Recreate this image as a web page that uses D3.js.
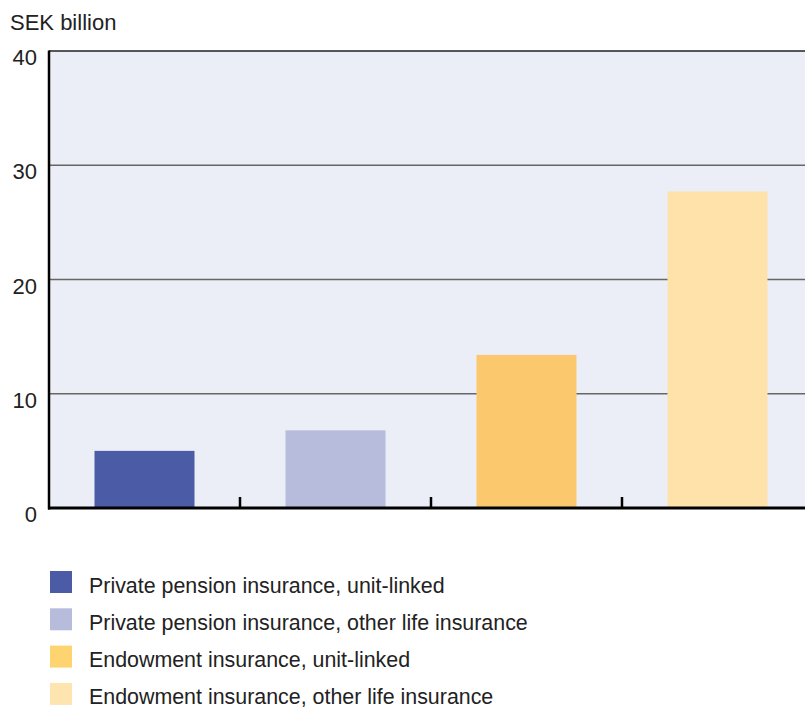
<!DOCTYPE html>
<html>
<head>
<meta charset="utf-8">
<script src="https://cdn.jsdelivr.net/npm/d3@7"></script>
<style>
  html, body { margin: 0; padding: 0; background: #fff; }
  svg { display: block; }
  text { font-family: "Liberation Sans", Arial, sans-serif; fill: #222; }
</style>
</head>
<body>
<svg id="chart" width="805" height="707"></svg>
<script>
// Categories, values (SEK billion) and colours
const categories = [
  "Private pension insurance, unit-linked",
  "Private pension insurance, other life insurance",
  "Endowment insurance, unit-linked",
  "Endowment insurance, other life insurance"
];
const values = [5.0, 6.8, 13.4, 27.7];
const barColors = ["#4b5ba6", "#b8bcdc", "#fcc86e", "#fee2aa"];
const legendColors = ["#4b5ba6", "#b8bcdc", "#fdd470", "#fee5b0"];
const yTicks = [0, 10, 20, 30, 40];
const unitLabel = "SEK billion";

(function draw() {
  const svg = d3.select("#chart");
  const W = 805;
  const plotLeft = 49, plotTop = 51, plotBottom = 508, plotRight = 813;

  const x = d3.scaleBand().domain(categories).range([plotLeft, plotRight]).paddingInner(0).paddingOuter(0);
  const y = d3.scaleLinear().domain([0, 40]).range([plotBottom, plotTop]);
  const barW = x.bandwidth() * 100 / 191;

  // plot background
  svg.append("rect")
    .attr("x", plotLeft).attr("y", plotTop)
    .attr("width", W - plotLeft).attr("height", plotBottom - plotTop)
    .attr("fill", "#ebeef6");

  // horizontal gridlines
  svg.append("g").selectAll("line")
    .data(yTicks.filter(d => d > 0))
    .join("line")
    .attr("x1", plotLeft).attr("x2", W)
    .attr("y1", d => y(d)).attr("y2", d => y(d))
    .attr("stroke", d => d === 40 ? "#222" : "#666")
    .attr("stroke-width", 1.5);

  // bars
  svg.append("g").selectAll("rect")
    .data(values)
    .join("rect")
    .attr("x", (d, i) => x(categories[i]) + (x.bandwidth() - barW) / 2)
    .attr("width", barW)
    .attr("y", d => y(d))
    .attr("height", d => y(0) - y(d))
    .attr("fill", (d, i) => barColors[i]);

  // y axis labels, set just below their gridlines
  const yAxis = d3.axisLeft(y).tickValues(yTicks).tickSize(0).tickPadding(12);
  const gy = svg.append("g").attr("transform", `translate(${plotLeft},0)`).call(yAxis);
  gy.select(".domain").remove();
  gy.selectAll("text")
    .attr("x", -12)
    .attr("y", 13.5)
    .attr("dy", null)
    .style("font-size", "22px")
    .style("font-family", "'Liberation Sans', Arial, sans-serif")
    .attr("fill", "#222");

  // left axis line
  svg.append("line")
    .attr("x1", plotLeft).attr("x2", plotLeft)
    .attr("y1", plotTop - 0.5).attr("y2", plotBottom + 1.5)
    .attr("stroke", "#000").attr("stroke-width", 2.5);

  // category separators on the x axis
  svg.append("g").selectAll("line")
    .data(categories.slice(1))
    .join("line")
    .attr("x1", d => x(d)).attr("x2", d => x(d))
    .attr("y1", plotBottom - 11).attr("y2", plotBottom)
    .attr("stroke", "#000").attr("stroke-width", 2.5);

  // x axis line
  svg.append("line")
    .attr("x1", plotLeft - 1).attr("x2", W)
    .attr("y1", plotBottom).attr("y2", plotBottom)
    .attr("stroke", "#000").attr("stroke-width", 3);

  // unit label
  svg.append("text")
    .attr("x", 10).attr("y", 30)
    .style("font-size", "22px")
    .text(unitLabel);

  // legend
  const legend = svg.append("g").selectAll("g")
    .data(categories)
    .join("g")
    .attr("transform", (d, i) => `translate(50, ${571 + i * 37.3})`);
  legend.append("rect")
    .attr("width", 22).attr("height", 22)
    .attr("fill", (d, i) => legendColors[i]);
  legend.append("text")
    .attr("x", 39).attr("y", 21.5)
    .style("font-size", "21.4px")
    .text(d => d);
})();
</script>
</body>
</html>
